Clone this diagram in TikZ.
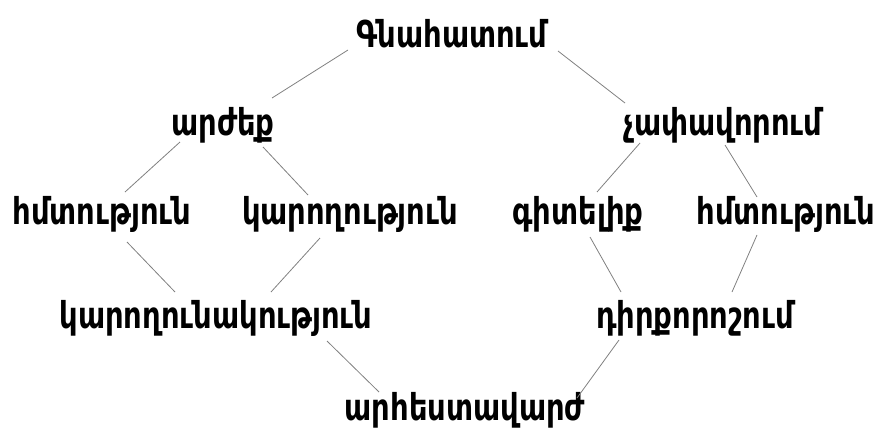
\documentclass[tikz,border=0pt]{standalone}
\usepackage{fontspec}
\newfontfamily\armfont[Script=Armenian,FakeStretch=0.87]{DejaVu Sans Condensed}
\usepackage{tikz}
\tikzset{
  term/.style={font=\armfont\bfseries\fontsize{37}{40}\selectfont,
               inner sep=2pt, text=black},
  link/.style={draw=black!50, line width=0.8pt}
}

\begin{document}
\begin{tikzpicture}[x=1pt,y=-1pt]
  \useasboundingbox (0,0) rectangle (883,442);
  \node[term] (gn) at (452,34)  {Գնահատում};
  \node[term] (ar) at (223,125) {արժեք};
  \node[term] (ch) at (723,125) {չափավորում};
  \node[term] (hm) at (102,214) {հմտություն};
  \node[term] (ka) at (350,214) {կարողություն};
  \node[term] (gi) at (578,214) {գիտելիք};
  \node[term] (hn) at (786,214) {հմտություն};
  \node[term] (kn) at (216,318) {կարողունակություն};
  \node[term] (di) at (695,318) {դիրքորոշում};
  \node[term] (ah) at (465,410) {արհեստավարժ};
  % links, offset from the node centres
  \draw[link] ([shift={(-104,16)}]gn.center) -- ([shift={(49,-27)}]ar.center);
  \draw[link] ([shift={(106,17)}]gn.center) -- ([shift={(-98,-22)}]ch.center);
  \draw[link] ([shift={(-43,17)}]ar.center) -- ([shift={(23,-22)}]hm.center);
  \draw[link] ([shift={(40,22)}]ar.center) -- ([shift={(-42,-19)}]ka.center);
  \draw[link] ([shift={(-83,18)}]ch.center) -- ([shift={(19,-22)}]gi.center);
  \draw[link] ([shift={(2,20)}]ch.center) -- ([shift={(-29,-17)}]hn.center);
  \draw[link] ([shift={(25,28)}]hm.center) -- ([shift={(-41,-26)}]kn.center);
  \draw[link] ([shift={(-30,24)}]ka.center) -- ([shift={(55,-26)}]kn.center);
  \draw[link] ([shift={(12,23)}]gi.center) -- ([shift={(-74,-26)}]di.center);
  \draw[link] ([shift={(-29,21)}]hn.center) -- ([shift={(37,-26)}]di.center);
  \draw[link] ([shift={(111,23)}]kn.center) -- ([shift={(-86,-18)}]ah.center);
  \draw[link] ([shift={(-76,22)}]di.center) -- ([shift={(112,-12)}]ah.center);
\end{tikzpicture}
\end{document}
